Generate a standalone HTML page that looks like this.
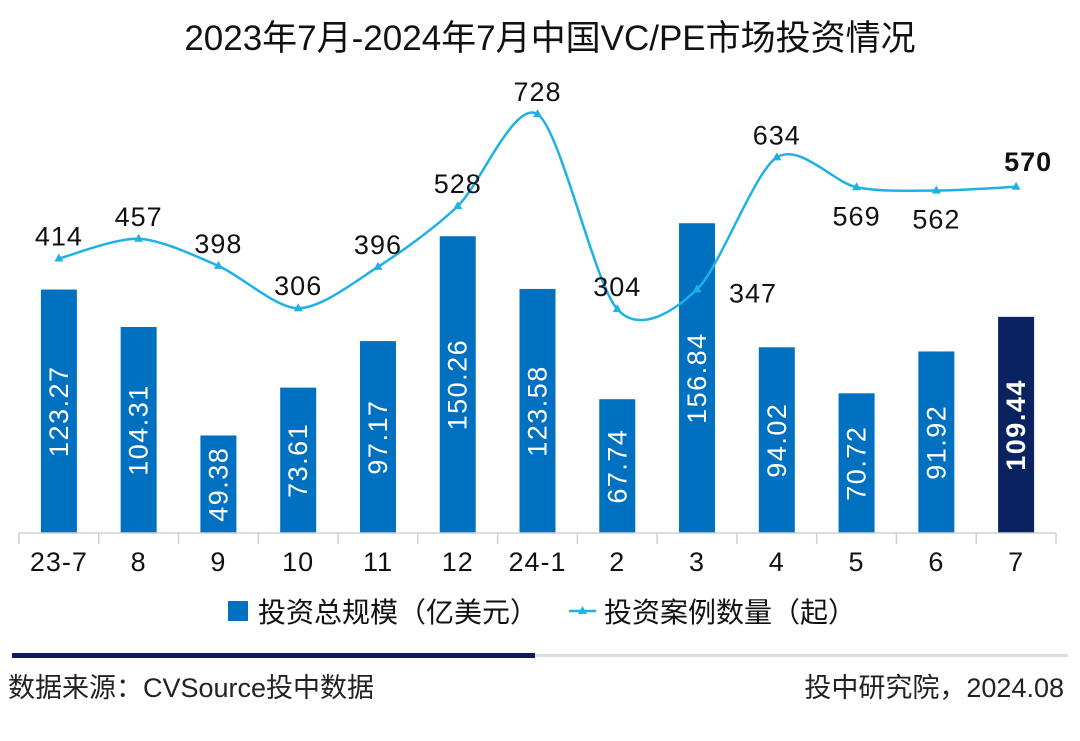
<!DOCTYPE html>
<html><head><meta charset="utf-8"><style>
body{margin:0;background:#fff;}
svg text{font-family:"Liberation Sans","Noto Sans CJK SC",sans-serif;}
</style></head><body>
<svg id="chart" width="1080" height="736">
<text x="550" y="50" font-size="35" text-anchor="middle" fill="#111">2023年7月-2024年7月中国VC/PE市场投资情况</text>
<g id="bars"></g><g id="axis"></g><g id="line"></g><g id="labels"></g>
<g>
<rect x="228" y="601" width="20" height="20" fill="#0070c0"/>
<text x="258" y="622" font-size="28" fill="#111">投资总规模（亿美元）</text>
<line x1="569" y1="611" x2="596" y2="611" stroke="#1fb1e6" stroke-width="2.5"/>
<path d="M582.5,606 L587,614 L578,614Z" fill="#1fb1e6"/>
<text x="604" y="622" font-size="28" fill="#111">投资案例数量（起）</text>
</g>
<rect x="12" y="653" width="523" height="5" fill="#0b1a5c"/>
<rect x="535" y="654" width="533" height="3" fill="#ddd"/>
<text x="8" y="697" font-size="27" fill="#222">数据来源：CVSource投中数据</text>
<text x="1064" y="697" font-size="27" fill="#222" text-anchor="end">投中研究院，2024.08</text>
</svg>
<script>
const categories=["23-7","8","9","10","11","12","24-1","2","3","4","5","6","7"];
const amounts=[123.27,104.31,49.38,73.61,97.17,150.26,123.58,67.74,156.84,94.02,70.72,91.92,109.44];
const cases=[414,457,398,306,396,528,728,304,347,634,569,562,570];
const NS="http://www.w3.org/2000/svg";
const x0=19,x1=1056,base=533,n=categories.length,step=(x1-x0)/n;
const xc=i=>x0+step*(i+0.5);
const yb=v=>base-v*1.975;
const yl=v=>449-v*0.46;
function mk(t,a,p){const e=document.createElementNS(NS,t);for(const k in a)e.setAttribute(k,a[k]);p.appendChild(e);return e;}
const B=document.getElementById('bars'),A=document.getElementById('axis'),L=document.getElementById('line'),T=document.getElementById('labels');
const ax=mk('line',{x1:x0,y1:base,x2:x1,y2:base,stroke:'#d0d0d0','stroke-width':1.5},A);


for(let i=0;i<=n;i++){const t=mk('line',{x1:x0+step*i,y1:base,x2:x0+step*i,y2:base+11,stroke:'#d0d0d0','stroke-width':1.5},A);

}
amounts.forEach((v,i)=>{
 const last=i===n-1;
 const r=mk('rect',{x:xc(i)-18,y:yb(v),width:36,height:base-yb(v),fill:last?'#0b2260':'#0070c0'},B);
 
 
 const cy=(yb(v)+base)/2;
 const t=mk('text',{x:xc(i),y:cy,'font-size':27,'letter-spacing':1.5,fill:'#fff','text-anchor':'middle','dominant-baseline':'central',transform:`rotate(-90 ${xc(i)} ${cy})`,'font-weight':last?'bold':'normal'},T);
 t.textContent=v.toFixed(2);
 
 
 const c=mk('text',{x:xc(i),y:571,'font-size':27,'letter-spacing':1,fill:'#111','text-anchor':'middle'},A);
 c.textContent=categories[i];
 
 
});
const pts=cases.map((v,i)=>[xc(i),yl(v)]);
const k=1/7;
let d=`M${pts[0][0]},${pts[0][1]}`;
for(let i=0;i<pts.length-1;i++){const p0=pts[Math.max(0,i-1)],p1=pts[i],p2=pts[i+1],p3=pts[Math.min(pts.length-1,i+2)];
 d+=` C${p1[0]+(p2[0]-p0[0])*k},${p1[1]+(p2[1]-p0[1])*k} ${p2[0]-(p3[0]-p1[0])*k},${p2[1]-(p3[1]-p1[1])*k} ${p2[0]},${p2[1]}`;}
const path=mk('path',{d:d,fill:'none',stroke:'#1fb1e6','stroke-width':2.5},L);


cases.forEach((v,i)=>{
 const [x,y]=pts[i];
 const m=mk('path',{d:`M${x},${y-5} L${x+4.5},${y+3} L${x-4.5},${y+3}Z`,fill:'#1fb1e6'},L);
 
 
 let lx=x,ly=y-13,bold=false;
 if(i===8){lx=x+56;ly=y+13;}
 else if(i===10||i===11){ly=y+38;}
 else if(i===12){lx=x+12;ly=y-16;bold=true;}
 const t=mk('text',{x:lx,y:ly,'font-size':27,'letter-spacing':1,fill:'#111','text-anchor':'middle','font-weight':bold?'bold':'normal'},T);
 t.textContent=v;
 
 
});
</script>
</body></html>
